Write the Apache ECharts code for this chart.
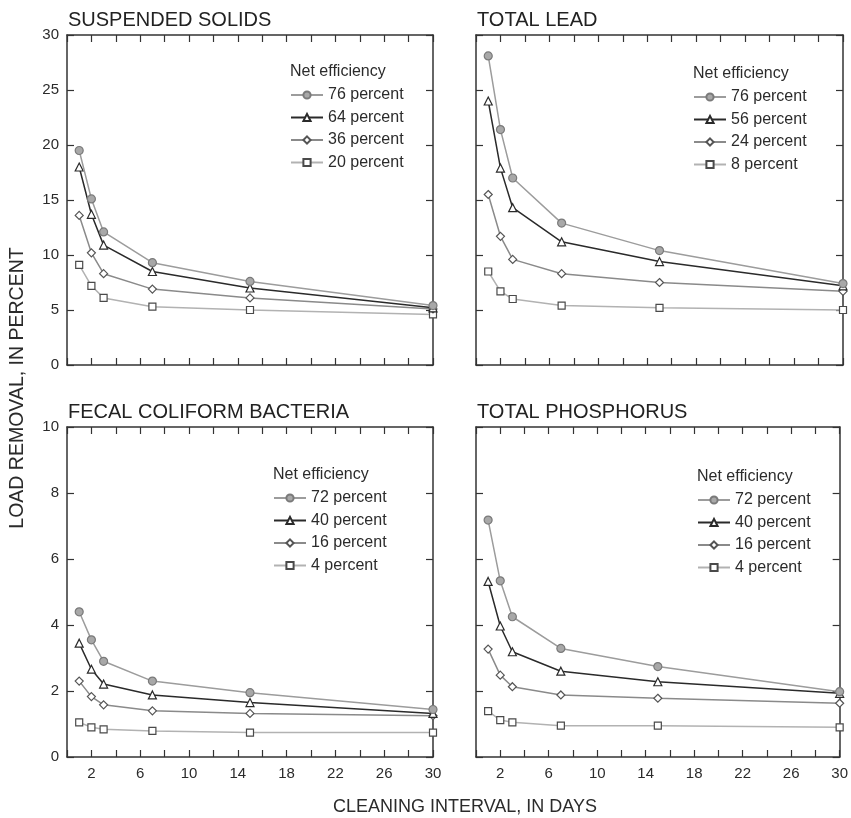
<!DOCTYPE html>
<html>
<head>
<meta charset="utf-8">
<script src="https://cdn.jsdelivr.net/npm/echarts@6/dist/echarts.min.js"></script>
<style>
  html, body { margin: 0; padding: 0; background: #fff; }
  #chart { width: 851px; height: 818px; }
</style>
</head>
<body>
<div id="chart"></div>
<script>
// Cleaning interval (days) at which load removal was simulated
const days = [1, 2, 3, 7, 15, 30];
const xLabelValues = [2, 6, 10, 14, 18, 22, 26, 30];

const panelTitles = ['SUSPENDED SOLIDS', 'TOTAL LEAD', 'FECAL COLIFORM BACTERIA', 'TOTAL PHOSPHORUS'];

// Suspended solids, load removal (percent)
const solidsNames = ['76 percent', '64 percent', '36 percent', '20 percent'];
const solids76 = [19.5, 15.1, 12.1, 9.3, 7.6, 5.4];
const solids64 = [18.0, 13.7, 10.9, 8.5, 7.0, 5.2];
const solids36 = [13.6, 10.2, 8.3, 6.9, 6.1, 5.1];
const solids20 = [9.1, 7.2, 6.1, 5.3, 5.0, 4.6];

// Total lead, load removal (percent)
const leadNames = ['76 percent', '56 percent', '24 percent', '8 percent'];
const lead76 = [28.1, 21.4, 17.0, 12.9, 10.4, 7.4];
const lead56 = [24.0, 17.9, 14.3, 11.2, 9.4, 7.2];
const lead24 = [15.5, 11.7, 9.6, 8.3, 7.5, 6.7];
const lead8 = [8.5, 6.7, 6.0, 5.4, 5.2, 5.0];

// Fecal coliform bacteria, load removal (percent)
const fecalNames = ['72 percent', '40 percent', '16 percent', '4 percent'];
const fecal72 = [4.4, 3.55, 2.9, 2.3, 1.95, 1.44];
const fecal40 = [3.45, 2.66, 2.21, 1.88, 1.65, 1.32];
const fecal16 = [2.3, 1.83, 1.58, 1.4, 1.32, 1.25];
const fecal4 = [1.05, 0.9, 0.84, 0.79, 0.74, 0.74];

// Total phosphorus, load removal (percent)
const phosNames = ['72 percent', '40 percent', '16 percent', '4 percent'];
const phos72 = [7.18, 5.34, 4.25, 3.29, 2.74, 1.98];
const phos40 = [5.32, 3.97, 3.19, 2.6, 2.28, 1.93];
const phos16 = [3.27, 2.48, 2.13, 1.88, 1.78, 1.63];
const phos4 = [1.39, 1.12, 1.05, 0.95, 0.95, 0.9];

const FONT = '"Liberation Sans", Arial, Helvetica, sans-serif';
const INK = '#2b2b2b';

// Marker/line look for the four efficiency levels (same order in every panel)
const looks = [
  { symbol: 'circle',   size: 8, line: '#9c9c9c', fill: '#a8a8a8', border: '#7a7a7a' },
  { symbol: 'triangle', size: 8, line: '#2a2a2a', fill: '#ffffff', border: '#2a2a2a' },
  { symbol: 'diamond',  size: 8, line: '#8a8a8a', fill: '#ffffff', border: '#555555' },
  { symbol: 'rect',     size: 7, line: '#b2b2b2', fill: '#ffffff', border: '#4a4a4a' }
];

// Plot rectangles: [left, top, width, height]
const boxes = [
  [67, 35, 366, 330],
  [476, 35, 367, 330],
  [67, 427, 366, 330],
  [476, 427, 367, 330]
];
const yMax = [30, 30, 10, 10];
const yStep = [5, 5, 2, 2];
const panels = [
  { names: solidsNames, values: [solids76, solids64, solids36, solids20] },
  { names: leadNames,   values: [lead76, lead56, lead24, lead8] },
  { names: fecalNames,  values: [fecal72, fecal40, fecal16, fecal4] },
  { names: phosNames,   values: [phos72, phos40, phos16, phos4] }
];
// Legend block anchor (left edge, centre of first entry) for each panel
const legendAt = [[290, 95], [693, 97], [273, 498], [697, 500]];

const axisLine = { show: true, onZero: false, lineStyle: { color: '#333', width: 1.5 } };
const axisTick = { show: true, inside: true, length: 7, lineStyle: { color: '#333', width: 1.2 } };

const grid = [], xAxis = [], yAxis = [], series = [], legend = [], graphic = [], title = [];

boxes.forEach((b, i) => {
  grid.push({ left: b[0], top: b[1], width: b[2], height: b[3], show: false });
  const bottomRow = i >= 2;
  const leftCol = i % 2 === 0;
  const xBase = { type: 'value', gridIndex: i, min: 0, max: 30, interval: 2,
    axisLine, axisTick, splitLine: { show: false } };
  xAxis.push(Object.assign({}, xBase, {
    position: 'bottom',
    axisLabel: {
      show: bottomRow, margin: 9, color: INK, fontFamily: FONT, fontSize: 15,
      formatter: v => (xLabelValues.indexOf(v) >= 0 ? String(v) : '')
    }
  }));
  xAxis.push(Object.assign({}, xBase, { position: 'top', axisLabel: { show: false } }));
  const yBase = { type: 'value', gridIndex: i, min: 0, max: yMax[i], interval: yStep[i],
    axisLine, axisTick, splitLine: { show: false } };
  yAxis.push(Object.assign({}, yBase, {
    position: 'left',
    axisLabel: { show: leftCol, margin: 8, color: INK, fontFamily: FONT, fontSize: 15 }
  }));
  yAxis.push(Object.assign({}, yBase, { position: 'right', axisLabel: { show: false } }));

  const p = panels[i];
  p.values.forEach((vals, k) => {
    const lk = looks[k];
    series.push({
      type: 'line', name: p.names[k],
      xAxisIndex: i * 2, yAxisIndex: i * 2,
      data: days.map((d, j) => [d, vals[j]]),
      symbol: lk.symbol, symbolSize: lk.size,
      lineStyle: { color: lk.line, width: 1.5 },
      itemStyle: { color: lk.fill, borderColor: lk.border, borderWidth: 1.2 },
      silent: true, animation: false, z: 5 - k
    });
  });

  const la = legendAt[i];
  legend.push({
    orient: 'vertical', left: la[0], top: la[1] - 8, padding: 0,
    data: p.names, itemWidth: 32, itemHeight: 9, itemGap: 6.5,
    selectedMode: false,
    textStyle: { color: INK, fontFamily: FONT, fontSize: 16, lineHeight: 16, padding: [0, 0, 0, 0] }
  });
  graphic.push({
    type: 'text', left: la[0], top: la[1] - 31,
    style: { text: 'Net efficiency', fill: INK, font: '16px ' + FONT }
  });
  title.push({
    text: panelTitles[i], left: b[0] + 1, top: b[1] - 25, padding: 0,
    textStyle: { color: '#222', fontFamily: FONT, fontSize: 20, fontWeight: 'normal' }
  });
});

// Shared axis titles
graphic.push({
  type: 'text', x: 18, y: 388, rotation: Math.PI / 2,
  style: { text: 'LOAD REMOVAL, IN PERCENT', fill: INK, font: '19.5px ' + FONT,
    textAlign: 'center', textVerticalAlign: 'middle' }
});
graphic.push({
  type: 'text', x: 465, y: 807,
  style: { text: 'CLEANING INTERVAL, IN DAYS', fill: INK, font: '18px ' + FONT,
    textAlign: 'center', textVerticalAlign: 'middle' }
});

const chart = echarts.init(document.getElementById('chart'), null, { renderer: 'canvas' });
chart.setOption({
  backgroundColor: '#ffffff',
  animation: false,
  title, grid, xAxis, yAxis, series, legend, graphic
});
</script>
</body>
</html>
